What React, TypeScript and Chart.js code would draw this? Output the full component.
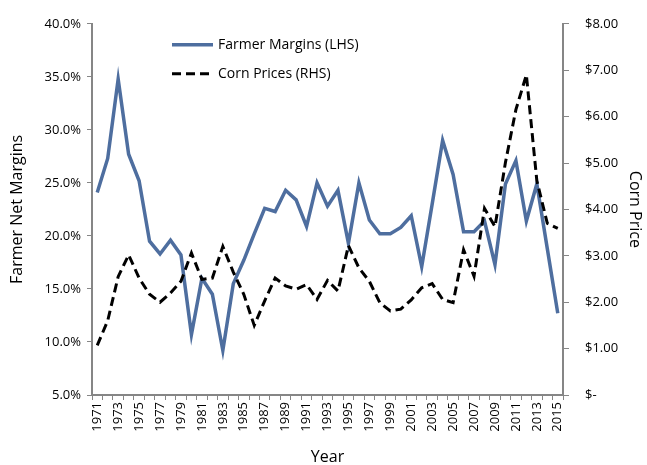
import React, { useEffect, useRef } from "react";
import { Chart, registerables } from "chart.js";

Chart.register(...registerables);

const years: string[] = [
  "1971","1972","1973","1974","1975","1976","1977","1978","1979","1980",
  "1981","1982","1983","1984","1985","1986","1987","1988","1989","1990",
  "1991","1992","1993","1994","1995","1996","1997","1998","1999","2000",
  "2001","2002","2003","2004","2005","2006","2007","2008","2009","2010",
  "2011","2012","2013","2014","2015",
];

// Farmer net margins, percent (LHS)
const farmerMargins: number[] = [
  24.1, 27.3, 34.8, 27.7, 25.2, 19.5, 18.3, 19.6, 18.2, 10.7,
  16.0, 14.5, 9.2, 15.5, 17.7, 20.2, 22.6, 22.3, 24.3, 23.4,
  20.9, 25.0, 22.8, 24.3, 19.3, 25.0, 21.5, 20.2, 20.2, 20.8,
  21.9, 17.1, 23.0, 29.0, 25.8, 20.4, 20.4, 21.4, 17.3, 24.9,
  27.1, 21.4, 24.9, 18.8, 12.7,
];

// Corn prices, $ per bushel (RHS)
const cornPrices: number[] = [
  1.07, 1.6, 2.55, 3.02, 2.52, 2.17, 2.0, 2.2, 2.45, 3.06,
  2.49, 2.52, 3.2, 2.65, 2.17, 1.5, 2.03, 2.52, 2.35, 2.28,
  2.38, 2.06, 2.47, 2.24, 3.22, 2.74, 2.45, 1.99, 1.81, 1.85,
  2.05, 2.31, 2.4, 2.06, 1.99, 3.13, 2.56, 4.02, 3.63, 5.01,
  6.15, 6.9, 4.62, 3.7, 3.59,
];

const leftTicks = { min: 5, max: 40, step: 5 };
const rightTicks = { min: 0, max: 8, step: 1 };

const seriesNames = ["Farmer Margins (LHS)", "Corn Prices (RHS)"];

const BLUE = "#4E6E9F";
const AXIS = "#868686";
const FONT = "'Open Sans', 'Noto Sans', sans-serif";

const legendPlugin = {
  id: "insideLegend",
  afterDraw(chart: any) {
    const { ctx, chartArea } = chart;
    const x0 = chartArea.left + 80;
    const x1 = chartArea.left + 121;
    const rows = [chartArea.top + 21, chartArea.top + 50];
    ctx.save();
    chart.data.datasets.forEach((ds: any, i: number) => {
      const y = rows[i];
      ctx.beginPath();
      ctx.strokeStyle = ds.borderColor;
      ctx.lineWidth = ds.borderWidth;
      ctx.setLineDash(ds.borderDash || []);
      ctx.moveTo(x0, y);
      ctx.lineTo(x1, y);
      ctx.stroke();
      ctx.setLineDash([]);
      ctx.fillStyle = "#000";
      ctx.font = `14px ${FONT}`;
      ctx.textBaseline = "middle";
      ctx.textAlign = "left";
      ctx.fillText(ds.label, x1 + 5, y);
    });
    ctx.restore();
  },
};

export default function App() {
  const ref = useRef<HTMLCanvasElement | null>(null);

  useEffect(() => {
    if (!ref.current) return;
    const chart = new Chart(ref.current, {
      type: "line",
      data: {
        labels: years,
        datasets: [
          {
            label: seriesNames[0],
            data: farmerMargins,
            yAxisID: "y",
            borderColor: BLUE,
            backgroundColor: BLUE,
            borderWidth: 3.5,
            pointRadius: 0,
            tension: 0,
            order: 2,
          },
          {
            label: seriesNames[1],
            data: cornPrices,
            yAxisID: "y1",
            borderColor: "#000000",
            backgroundColor: "#000000",
            borderWidth: 3,
            borderDash: [9, 5],
            pointRadius: 0,
            tension: 0,
            order: 1,
          },
        ],
      },
      options: {
        responsive: false,
        animation: false,
        layout: { padding: { top: 20, left: 0, right: 0, bottom: 0 } },
        plugins: {
          legend: { display: false },
          tooltip: { enabled: false },
        },
        scales: {
          x: {
            type: "category",
            offset: true,
            afterFit: (s: any) => { s.height = 70; },
            grid: {
              offset: true,
              drawOnChartArea: false,
              drawTicks: true,
              tickLength: 5,
              color: AXIS,
              lineWidth: 1,
            },
            border: { color: AXIS, width: 2 },
            ticks: {
              autoSkip: false,
              maxRotation: 90,
              minRotation: 90,
              padding: 2,
              color: "#000",
              font: { family: FONT, size: 13 },
              callback: (_v: any, i: number) => (i % 2 === 0 ? years[i] : ""),
            },
            title: {
              display: true,
              text: "Year",
              color: "#000",
              font: { family: FONT, size: 16, lineHeight: 1 },
              padding: { top: 0, bottom: 0 },
            },
          },
          y: {
            position: "left",
            min: leftTicks.min,
            max: leftTicks.max,
            afterFit: (s: any) => { s.width = 92; },
            grid: {
              drawOnChartArea: false,
              drawTicks: true,
              tickLength: 5,
              color: AXIS,
            },
            border: { color: AXIS, width: 2 },
            ticks: {
              stepSize: leftTicks.step,
              padding: 6,
              color: "#000",
              font: { family: FONT, size: 13 },
              callback: (v: any) => Number(v).toFixed(1) + "%",
            },
            title: {
              display: true,
              text: "Farmer Net Margins",
              color: "#000",
              font: { family: FONT, size: 16 },
              padding: { top: 8, bottom: 0 },
            },
          },
          y1: {
            position: "right",
            min: rightTicks.min,
            max: rightTicks.max,
            afterFit: (s: any) => { s.width = 84; },
            grid: {
              drawOnChartArea: false,
              drawTicks: true,
              tickLength: 6,
              color: AXIS,
            },
            border: { color: AXIS, width: 2 },
            ticks: {
              stepSize: rightTicks.step,
              padding: 16,
              color: "#000",
              font: { family: FONT, size: 13 },
              callback: (v: any) => (Number(v) === 0 ? "$-" : "$" + Number(v).toFixed(2)),
            },
            title: {
              display: true,
              text: "Corn Price",
              color: "#000",
              font: { family: FONT, size: 16 },
              padding: { top: 3, bottom: 0 },
            },
          },
        },
      },
      plugins: [legendPlugin],
    });
    return () => chart.destroy();
  }, []);

  return (
    <div style={{ position: "absolute", left: 0, top: 0, width: 647, height: 465, background: "#fff" }}>
      <canvas ref={ref} width={647} height={465} />
    </div>
  );
}
